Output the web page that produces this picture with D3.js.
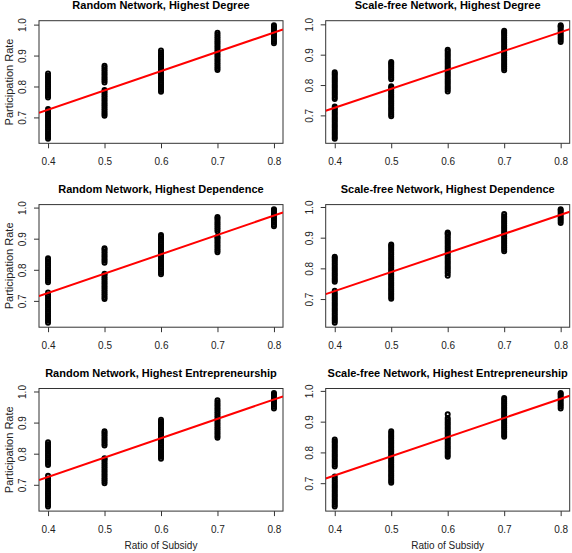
<!DOCTYPE html>
<html><head><meta charset="utf-8">
<script src="https://cdn.jsdelivr.net/npm/d3@7"></script>
<style>body{margin:0;background:#fff}svg{display:block}text{font-family:"Liberation Sans",Arial,Helvetica,sans-serif}</style>
</head><body>
<script>
const ratios = [0.4, 0.5, 0.6, 0.7, 0.8];
const xTicks = [0.4, 0.5, 0.6, 0.7, 0.8];
const yTicks = [0.7, 0.8, 0.9, 1.0];
const titles = [
  "Random Network, Highest Degree",
  "Scale-free Network, Highest Degree",
  "Random Network, Highest Dependence",
  "Scale-free Network, Highest Dependence",
  "Random Network, Highest Entrepreneurship",
  "Scale-free Network, Highest Entrepreneurship"
];
const xLabel = "Ratio of Subsidy";
const yLabel = "Participation Rate";

// participation rates per ratio (0.4 .. 0.8), one list per ratio
const randomDegree = [
  [0.631,0.637,0.643,0.649,0.655,0.661,0.667,0.673,0.679,0.685,0.691,0.697,0.703,0.709,0.715,0.721,0.727,0.764,0.770,0.776,0.782,0.788,0.794,0.800,0.806,0.812,0.818,0.824,0.830,0.835,0.842],
  [0.705,0.711,0.717,0.723,0.729,0.735,0.741,0.747,0.753,0.759,0.765,0.771,0.777,0.783,0.789,0.813,0.819,0.825,0.831,0.837,0.843,0.849,0.855,0.861,0.867],
  [0.783,0.789,0.795,0.801,0.807,0.813,0.819,0.825,0.831,0.837,0.843,0.849,0.855,0.861,0.867,0.873,0.879,0.885,0.891,0.897,0.903,0.909,0.916],
  [0.853,0.859,0.865,0.871,0.877,0.883,0.889,0.895,0.901,0.907,0.913,0.919,0.925,0.931,0.937,0.943,0.949,0.955,0.961,0.967,0.974],
  [0.940,0.946,0.952,0.958,0.964,0.970,0.976,0.982,0.988,0.993,0.998]
];
const scaleFreeDegree = [
  [0.623,0.629,0.635,0.641,0.647,0.653,0.659,0.665,0.671,0.677,0.683,0.689,0.695,0.701,0.707,0.713,0.719,0.724,0.729,0.754,0.760,0.766,0.772,0.778,0.784,0.790,0.796,0.802,0.808,0.814,0.820,0.826,0.832,0.837,0.842],
  [0.697,0.703,0.709,0.715,0.721,0.727,0.733,0.739,0.745,0.751,0.757,0.763,0.769,0.775,0.781,0.787,0.792,0.796,0.819,0.825,0.831,0.837,0.843,0.849,0.855,0.861,0.867,0.872,0.876],
  [0.779,0.785,0.791,0.797,0.803,0.809,0.815,0.821,0.827,0.833,0.839,0.845,0.851,0.857,0.863,0.869,0.875,0.881,0.887,0.893,0.899,0.905,0.911,0.916],
  [0.849,0.855,0.861,0.867,0.873,0.879,0.885,0.891,0.897,0.903,0.909,0.915,0.921,0.927,0.933,0.939,0.945,0.951,0.957,0.963,0.969,0.974,0.979],
  [0.942,0.948,0.954,0.960,0.966,0.972,0.978,0.984,0.990,0.994,0.997]
];
const randomDependence = [
  [0.630,0.636,0.642,0.648,0.654,0.660,0.666,0.672,0.678,0.684,0.690,0.696,0.702,0.708,0.714,0.719,0.727,0.760,0.766,0.772,0.778,0.784,0.790,0.796,0.802,0.808,0.814,0.820,0.826,0.832,0.837],
  [0.706,0.712,0.718,0.724,0.730,0.736,0.742,0.748,0.754,0.760,0.766,0.772,0.778,0.784,0.787,0.823,0.829,0.835,0.841,0.847,0.853,0.859,0.865,0.869],
  [0.786,0.792,0.798,0.804,0.810,0.816,0.822,0.828,0.834,0.840,0.846,0.852,0.858,0.864,0.870,0.876,0.882,0.888,0.894,0.900,0.906,0.912],
  [0.856,0.862,0.868,0.874,0.880,0.886,0.892,0.898,0.903,0.906,0.924,0.930,0.936,0.942,0.948,0.954,0.960,0.966,0.970],
  [0.940,0.946,0.952,0.958,0.964,0.970,0.976,0.982,0.988,0.992,0.995]
];
const scaleFreeDependence = [
  [0.623,0.629,0.635,0.641,0.647,0.653,0.659,0.665,0.671,0.677,0.683,0.689,0.695,0.701,0.707,0.713,0.719,0.727,0.756,0.762,0.768,0.774,0.780,0.786,0.792,0.798,0.804,0.810,0.816,0.822,0.828,0.834,0.838],
  [0.701,0.707,0.713,0.719,0.725,0.731,0.737,0.743,0.749,0.755,0.761,0.767,0.773,0.779,0.785,0.791,0.797,0.803,0.809,0.815,0.821,0.827,0.833,0.839,0.845,0.851,0.857,0.863,0.869,0.874,0.878],
  [0.776,0.784,0.790,0.796,0.802,0.808,0.814,0.820,0.826,0.832,0.838,0.844,0.850,0.856,0.862,0.868,0.874,0.880,0.886,0.892,0.898,0.904,0.910,0.914,0.917],
  [0.856,0.862,0.868,0.874,0.880,0.886,0.892,0.898,0.904,0.910,0.916,0.922,0.928,0.934,0.940,0.946,0.952,0.958,0.964,0.970,0.977],
  [0.948,0.954,0.960,0.966,0.972,0.978,0.984,0.989,0.993]
];
const randomEntrepreneurship = [
  [0.630,0.636,0.642,0.648,0.654,0.660,0.666,0.672,0.678,0.684,0.690,0.696,0.702,0.708,0.714,0.720,0.729,0.764,0.770,0.776,0.782,0.788,0.794,0.800,0.806,0.812,0.818,0.824,0.830,0.837],
  [0.705,0.711,0.717,0.723,0.729,0.735,0.741,0.747,0.753,0.759,0.765,0.771,0.777,0.782,0.785,0.826,0.832,0.838,0.844,0.850,0.856,0.862,0.867,0.872],
  [0.784,0.790,0.796,0.802,0.808,0.814,0.820,0.826,0.832,0.838,0.844,0.850,0.856,0.862,0.868,0.874,0.880,0.886,0.892,0.898,0.903,0.909],
  [0.851,0.857,0.863,0.869,0.875,0.881,0.887,0.893,0.899,0.905,0.911,0.917,0.923,0.929,0.935,0.941,0.947,0.953,0.959,0.965,0.972],
  [0.945,0.951,0.957,0.963,0.969,0.975,0.981,0.987,0.992,0.995]
];
const scaleFreeEntrepreneurship = [
  [0.624,0.630,0.636,0.642,0.648,0.654,0.660,0.666,0.672,0.678,0.684,0.690,0.696,0.702,0.708,0.714,0.722,0.754,0.760,0.766,0.772,0.778,0.784,0.790,0.796,0.802,0.808,0.814,0.820,0.826,0.832,0.836,0.842],
  [0.701,0.707,0.713,0.719,0.725,0.731,0.737,0.743,0.749,0.755,0.761,0.767,0.773,0.779,0.785,0.791,0.797,0.803,0.809,0.815,0.821,0.827,0.833,0.839,0.845,0.851,0.857,0.863,0.869],
  [0.786,0.792,0.798,0.804,0.810,0.816,0.822,0.828,0.834,0.840,0.846,0.852,0.858,0.864,0.870,0.876,0.882,0.888,0.894,0.900,0.906,0.912,0.924],
  [0.851,0.857,0.863,0.869,0.875,0.881,0.887,0.893,0.899,0.905,0.911,0.917,0.923,0.929,0.935,0.941,0.947,0.953,0.959,0.965,0.971,0.977],
  [0.943,0.949,0.955,0.961,0.967,0.973,0.979,0.985,0.990,0.993]
];
// fitted regression lines (intercept, slope) per panel
const fitIntercept = [0.476, 0.476, 0.476, 0.477, 0.476, 0.476];
const fitSlope     = [0.623, 0.623, 0.623, 0.622, 0.623, 0.623];

const panels = [randomDegree, scaleFreeDegree, randomDependence, scaleFreeDependence, randomEntrepreneurship, scaleFreeEntrepreneurship];

const W = 572, H = 553;
const boxW = 244, boxH = 122.6;
const svg = d3.select("body").append("svg").attr("width", W).attr("height", H);
const pad = e => { const r = e[1] - e[0]; return [e[0] - 0.04 * r, e[1] + 0.04 * r]; };
const axisColor = "#333";

panels.forEach((cols, i) => {
  const c = i % 2, r = Math.floor(i / 2);
  const left = 39 + c * 286.7, top = 20.7 + r * 183.9;
  const g = svg.append("g").attr("transform", `translate(${left},${top})`);
  const x = d3.scaleLinear().domain(pad(d3.extent(ratios))).range([0, boxW]);
  const y = d3.scaleLinear().domain(pad(d3.extent(cols.flat()))).range([boxH, 0]);

  const clipId = "clip" + i;
  g.append("clipPath").attr("id", clipId).append("rect").attr("width", boxW).attr("height", boxH);

  // points
  const pts = [];
  cols.forEach((vals, k) => vals.forEach(v => pts.push([ratios[k], v])));
  g.append("g").selectAll("circle").data(pts).join("circle")
    .attr("cx", d => x(d[0])).attr("cy", d => y(d[1])).attr("r", 2.0)
    .attr("fill", "none").attr("stroke", "#000").attr("stroke-width", 2);

  // box
  g.append("rect").attr("width", boxW).attr("height", boxH)
    .attr("fill", "none").attr("stroke", axisColor).attr("stroke-width", 1);

  // x axis
  const xa = g.append("g").attr("transform", `translate(0,${boxH})`)
    .call(d3.axisBottom(x).tickValues(xTicks).tickSize(5).tickPadding(9.5).tickFormat(d3.format(".1f")));
  xa.select(".domain").remove();
  xa.selectAll(".tick line").attr("stroke", axisColor);
  xa.selectAll(".tick text").attr("font-size", 10).attr("fill", "#222")
    .style("font-family", '"Liberation Sans",Arial,sans-serif');

  // y axis
  const ya = g.append("g").call(d3.axisLeft(y).tickValues(yTicks).tickSize(5).tickFormat(d3.format(".1f")));
  ya.select(".domain").remove();
  ya.selectAll(".tick line").attr("stroke", axisColor);
  ya.selectAll(".tick text").attr("font-size", 10).attr("fill", "#222")
    .attr("transform", "rotate(-90)").attr("text-anchor", "middle")
    .attr("x", 0).attr("y", -13).attr("dy", 0)
    .style("font-family", '"Liberation Sans",Arial,sans-serif');

  // regression line
  const xd = x.domain();
  g.append("line").attr("clip-path", `url(#${clipId})`)
    .attr("x1", x(xd[0])).attr("y1", y(fitIntercept[i] + fitSlope[i] * xd[0]))
    .attr("x2", x(xd[1])).attr("y2", y(fitIntercept[i] + fitSlope[i] * xd[1]))
    .attr("stroke", "#ff0000").attr("stroke-width", 2);

  // title
  g.append("text").attr("x", boxW / 2).attr("y", -11.7).attr("text-anchor", "middle")
    .attr("font-size", 11).attr("font-weight", "bold").attr("fill", "#000").text(titles[i]);

  if (c === 0) {
    g.append("text").attr("transform", `translate(${12.5 - 39},${boxH / 2}) rotate(-90)`)
      .attr("text-anchor", "middle").attr("font-size", 11).attr("fill", "#222").text(yLabel);
  }
  if (r === 2) {
    g.append("text").attr("x", boxW / 2).attr("y", boxH + 37.6).attr("text-anchor", "middle")
      .attr("font-size", 10).attr("fill", "#222").text(xLabel);
  }
});
</script>
</body></html>
